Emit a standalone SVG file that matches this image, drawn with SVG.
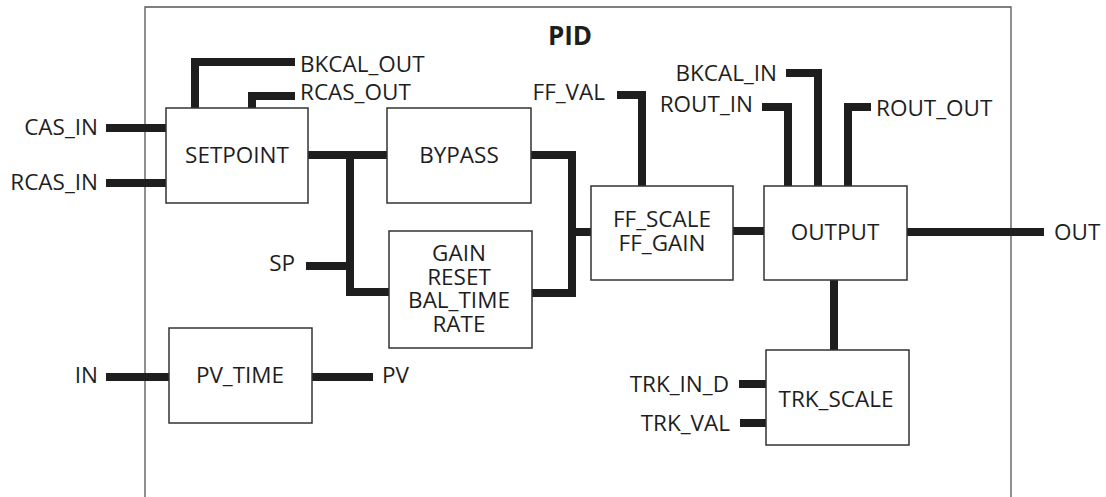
<svg xmlns="http://www.w3.org/2000/svg" width="1106" height="497" viewBox="0 0 1106 497">
<style>
.frame{fill:none;stroke:#555;stroke-width:1.3}
.box{fill:#fff;stroke:#333;stroke-width:1.5}
.wire{fill:none;stroke:#1e1e1e;stroke-width:8;stroke-linejoin:miter;stroke-linecap:butt}
text{font-family:"Open Sans","Noto Sans","Liberation Sans",sans-serif;font-size:22.5px;fill:#1e1e1e}
.c{text-anchor:middle}
.e{text-anchor:end}
.title{font-weight:bold;font-size:26px}
</style>
<rect width="1106" height="497" fill="#fff"/>
<path class="frame" d="M145,497 V7 H1011 V497"/>
<text class="title c" x="570" y="45">PID</text>

<g id="connectors">
<polyline class="wire" points="106,128 166,128"/>
<polyline class="wire" points="106,183 166,183"/>
<polyline class="wire" points="195,108 195,62 295,62"/>
<polyline class="wire" points="252,108 252,96 295,96"/>
<polyline class="wire" points="308,155 387,155"/>
<polyline class="wire" points="350,155 350,292 389,292"/>
<polyline class="wire" points="306,266 350,266"/>
<polyline class="wire" points="531,155 572,155 572,293 532,293"/>
<polyline class="wire" points="572,232 591,232"/>
<polyline class="wire" points="617,95 642,95 642,186"/>
<polyline class="wire" points="733,231 764,231"/>
<polyline class="wire" points="907,232 1044,232"/>
<polyline class="wire" points="786,73 818,73 818,186"/>
<polyline class="wire" points="762,107 788,107 788,186"/>
<polyline class="wire" points="848,186 848,107 871,107"/>
<polyline class="wire" points="834,280 834,350"/>
<polyline class="wire" points="739,384 766,384"/>
<polyline class="wire" points="740,423 766,423"/>
<polyline class="wire" points="106,377 169,377"/>
<polyline class="wire" points="312,377 373,377"/>
</g>

<g id="labels">
<text class="e" x="98" y="135">CAS_IN</text>
<text class="e" x="98" y="190">RCAS_IN</text>
<text x="300" y="72">BKCAL_OUT</text>
<text x="300" y="100">RCAS_OUT</text>
<text class="e" x="295" y="271">SP</text>
<text class="e" x="605" y="100">FF_VAL</text>
<text class="e" x="777" y="81">BKCAL_IN</text>
<text class="e" x="753" y="112">ROUT_IN</text>
<text x="876" y="116">ROUT_OUT</text>
<text x="1054" y="240">OUT</text>
<text class="e" x="729" y="392">TRK_IN_D</text>
<text class="e" x="730" y="431">TRK_VAL</text>
<text class="e" x="98" y="383">IN</text>
<text x="382" y="383">PV</text>
</g>

<g id="setpoint">
<rect class="box" x="166" y="108" width="142" height="95"/>
<text class="c" x="237" y="163">SETPOINT</text>
</g>
<g id="bypass">
<rect class="box" x="387" y="108" width="144" height="95"/>
<text class="c" x="459" y="163">BYPASS</text>
</g>
<g id="gain">
<rect class="box" x="389" y="231" width="143" height="117"/>
<text class="c" x="459" y="261">GAIN</text>
<text class="c" x="459" y="285">RESET</text>
<text class="c" x="459" y="308">BAL_TIME</text>
<text class="c" x="459" y="332">RATE</text>
</g>
<g id="ffscale">
<rect class="box" x="591" y="186" width="142" height="94"/>
<text class="c" x="662" y="227">FF_SCALE</text>
<text class="c" x="662" y="251">FF_GAIN</text>
</g>
<g id="output">
<rect class="box" x="764" y="186" width="143" height="94"/>
<text class="c" x="835" y="240">OUTPUT</text>
</g>
<g id="trkscale">
<rect class="box" x="766" y="350" width="143" height="95"/>
<text class="c" x="836" y="407">TRK_SCALE</text>
</g>
<g id="pvtime">
<rect class="box" x="169" y="328" width="143" height="95"/>
<text class="c" x="240" y="383">PV_TIME</text>
</g>
</svg>
